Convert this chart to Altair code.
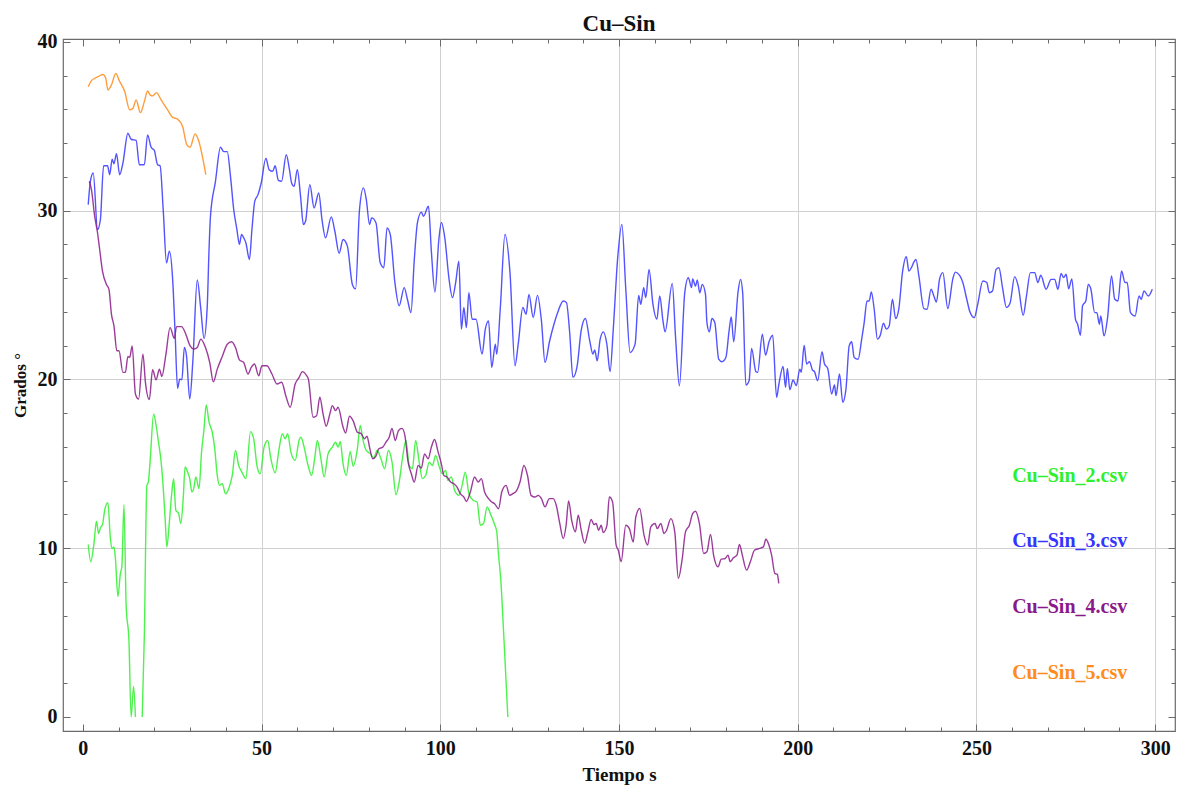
import altair as alt
import pandas as pd

# ---------------- data ----------------
series_names = ["Cu–Sin_2.csv", "Cu–Sin_3.csv", "Cu–Sin_4.csv", "Cu–Sin_5.csv"]
palette = ["#2ef02e", "#3535ff", "#8a1a8a", "#ff8c1a"]

# Cu-Sin_2 (green) – two pieces (clipped below 0 in between)
g1_t = [1.5, 2.2, 3.1, 3.8, 4.4, 4.9, 5.5, 6.1, 7.0, 7.7, 8.2, 8.7, 9.1, 9.8, 10.5, 10.9,
        11.5, 12.1, 12.9, 13.5, 14.2, 14.7]
g1_v = [10.22, 9.2, 10.28, 11.6, 10.87, 11.2, 11.4, 12.25, 12.7, 10.57, 9.98, 10.08, 9.39,
        7.13, 8.51, 8.9, 12.58, 6.63, 4.47, 0.0, 1.81, 0.0]
g2_t = [16.6, 17.2, 17.9, 18.3, 18.8, 19.8, 20.5, 21.1, 21.9, 22.5, 23.0, 23.5, 24.2, 24.9,
        25.4, 26.0, 26.8, 27.4, 28.1, 28.6, 29.3, 29.9, 30.5, 31.1, 31.6, 32.5, 33.2, 33.9,
        34.5, 35.3, 36.2, 36.9, 37.6, 38.2, 39.0, 39.9, 40.8, 41.8, 42.7, 43.6, 44.5, 45.6,
        46.9, 47.8, 48.7, 49.6, 50.7, 51.7, 52.6, 53.8, 54.9, 55.8, 56.6, 57.3, 58.2, 59.4,
        60.5, 61.0, 61.9, 62.9, 64.0, 64.9, 65.6, 66.6, 67.5, 68.6, 69.8, 70.7, 71.4, 72.0,
        72.8, 73.7, 74.8, 75.6, 76.8, 77.6, 78.3, 79.3, 80.5, 81.4, 82.3, 83.4, 84.4, 85.5,
        86.5, 87.6, 88.5, 89.4, 90.4, 91.3, 92.2, 93.1, 94.1, 95.0, 95.9, 96.9, 97.8, 98.7,
        99.6, 100.6, 101.5, 102.1, 103.1, 104.0, 105.2, 106.1, 107.0, 108.0, 109.2, 110.3,
        111.2, 112.1, 113.1, 114.0, 115.1, 115.8, 116.3, 116.9, 117.8, 118.9]
g2_v = [0.0, 4.86, 13.72, 13.9, 15.1, 17.96, 17.27, 16.38, 15.1, 13.53, 11.8, 10.08, 11.56,
        13.33, 14.12, 12.25, 12.05, 11.46, 13.04, 14.81, 14.51, 14.12, 13.33, 13.62, 14.22,
        13.53, 15.69, 17.07, 18.49, 17.47, 16.87, 15.89, 14.31, 13.72, 13.82, 13.23, 13.53,
        14.31, 15.79, 14.9, 14.51, 14.12, 16.91, 16.48, 14.9, 14.41, 15.99, 16.38, 15.3,
        14.47, 15.89, 16.78, 16.48, 16.78, 15.69, 15.2, 16.4, 16.57, 15.99, 15.0, 14.31,
        15.4, 16.38, 15.3, 14.22, 15.59, 15.99, 16.28, 15.99, 16.32, 15.0, 14.31, 15.73,
        14.87, 15.89, 17.27, 16.48, 15.79, 15.59, 15.34, 15.79, 15.3, 14.71, 15.79, 15.1,
        13.17, 13.92, 15.3, 16.38, 14.9, 14.71, 16.38, 15.1, 14.12, 14.31, 15.1, 14.9, 15.49,
        14.9, 14.41, 14.61, 14.02, 14.22, 13.43, 13.13, 13.72, 14.51, 13.23, 12.84, 12.74,
        11.36, 11.46, 12.45, 12.05, 11.46, 10.97, 9.59, 8.21, 4.67, 0.0]

# Cu-Sin_3 (blue)
b_t = [1.5, 2.1, 2.9, 4.1, 4.9, 5.8, 6.9, 7.5, 8.2, 8.7, 9.4, 10.3, 11.2, 12.6, 13.5, 14.9,
       15.8, 17.2, 18.1, 19.1, 20.0, 20.9, 21.6, 22.5, 23.4, 24.2, 25.1, 25.8, 26.5, 27.1,
       27.7, 28.4, 29.0, 29.9, 30.8, 32.0, 33.0, 33.9, 34.8, 35.3, 35.7, 37.1, 38.5, 39.4,
       40.4, 41.3, 42.2, 43.1, 43.8, 44.4, 45.0, 45.6, 46.6, 47.3, 48.1, 49.0, 49.9, 51.2,
       52.1, 53.1, 53.8, 54.7, 55.6, 56.9, 57.8, 58.4, 59.1, 60.0, 60.9, 61.7, 62.3, 63.5,
       64.7, 66.0, 66.9, 67.9, 69.5, 70.5, 71.7, 72.8, 74.0, 75.4, 76.3, 77.4, 78.5, 79.3,
       80.2, 80.8, 82.0, 83.2, 84.2, 85.1, 86.0, 87.3, 88.5, 89.9, 90.8, 91.8, 92.7, 93.6,
       94.7, 95.3, 96.7, 97.5, 98.5, 99.6, 100.3, 101.3, 102.4, 103.4, 104.3, 105.2, 105.9,
       106.6, 107.3, 108.0, 108.9, 110.0, 111.7, 112.6, 113.5, 114.4, 115.4, 115.8, 116.8,
       118.1, 119.5, 120.9, 121.8, 123.1, 124.0, 124.8, 126.0, 127.2, 128.3, 129.3, 130.6,
       131.8, 133.0, 134.4, 135.3, 136.2, 137.1, 138.3, 139.4, 140.6, 141.8, 142.7, 143.2,
       143.9, 144.7, 145.6, 146.6, 147.5, 148.4, 149.6, 150.8, 151.9, 153.1, 154.5, 155.5,
       156.1, 156.9, 157.5, 158.4, 159.5, 160.6, 161.4, 162.3, 162.9, 164.9, 165.8, 166.9,
       168.4, 169.4, 170.3, 170.6, 171.4, 171.9, 172.6, 173.3, 174.2, 174.6, 175.3, 176.0,
       176.8, 177.9, 178.8, 179.9, 180.8, 181.4, 182.1, 183.3, 184.0, 184.6, 185.5, 186.4,
       187.1, 188.3, 188.8, 190.1, 191.0, 192.0, 193.0, 194.1, 194.7, 195.9, 196.6, 197.1,
       197.8, 198.7, 199.6, 200.6, 201.0, 201.8, 202.5, 203.3, 204.1, 204.7, 205.6, 206.8,
       207.5, 208.4, 209.5, 210.3, 210.7, 211.7, 212.6, 213.5, 214.4, 215.1, 215.8, 216.9,
       217.9, 218.6, 219.4, 220.0, 220.6, 221.4, 222.3, 223.1, 224.0, 224.8, 225.6, 226.5,
       227.4, 228.3, 229.3, 230.4, 231.1, 231.8, 232.5, 233.1, 233.9, 235.3, 236.2, 237.3,
       238.1, 238.8, 239.7, 240.6, 242.0, 243.4, 244.1, 245.3, 246.2, 247.3, 248.2, 249.4,
       250.3, 251.8, 252.9, 253.6, 254.5, 255.5, 256.3, 257.3, 258.4, 259.4, 260.7, 261.7,
       263.1, 264.0, 265.1, 266.3, 267.2, 268.0, 269.5, 270.9, 271.9, 272.8, 273.7, 274.4,
       275.1, 275.8, 276.7, 277.7, 278.3, 279.1, 279.7, 280.6, 281.3, 282.0, 283.1, 283.7,
       284.4, 284.8, 285.7, 286.7, 287.8, 288.7, 289.6, 290.6, 291.6, 292.2, 293.1, 294.4,
       295.5, 296.1, 296.9, 298.1, 299.2]
b_v = [30.36, 31.74, 32.23, 28.88, 29.47, 32.66, 32.66, 32.13, 33.05, 32.78, 33.37, 32.13,
       32.82, 34.59, 34.23, 34.16, 32.72, 32.72, 34.49, 33.76, 33.56, 32.72, 32.66, 29.97,
       26.9, 27.6, 26.0, 22.78, 19.47, 20.02, 19.98, 21.9, 21.4, 18.84, 21.2, 25.89, 24.16,
       22.43, 24.36, 27.7, 29.67, 31.74, 33.76, 33.5, 33.5, 32.03, 30.07, 28.88, 28.0, 28.59,
       28.39, 28.1, 27.11, 28.88, 30.56, 30.95, 31.64, 33.11, 32.43, 32.33, 32.66, 31.79,
       31.74, 33.31, 32.43, 31.64, 31.44, 32.43, 30.85, 29.18, 29.37, 31.54, 30.16, 31.05,
       29.47, 28.39, 29.63, 28.78, 27.47, 28.29, 27.9, 25.63, 25.37, 30.07, 31.35, 30.66,
       29.18, 29.57, 29.28, 26.91, 26.62, 28.98, 28.59, 25.74, 24.36, 25.44, 24.75, 23.96,
       27.01, 29.28, 29.91, 29.67, 30.26, 27.6, 25.18, 28.29, 29.3, 28.33, 26.03, 24.85,
       25.74, 27.01, 22.98, 24.26, 23.07, 25.14, 23.57, 23.57, 21.5, 22.98, 23.47, 20.71,
       22.09, 21.5, 24.26, 28.59, 26.33, 20.81, 22.09, 24.26, 23.86, 25.04, 23.67, 24.98,
       23.47, 21.0, 22.29, 23.27, 24.06, 24.65, 24.55, 22.78, 20.12, 20.81, 22.88, 23.61,
       22.3, 21.5, 21.75, 21.1, 22.34, 22.82, 22.09, 20.46, 22.98, 27.11, 29.18, 25.34, 21.6,
       22.09, 24.98, 24.45, 25.44, 24.85, 26.52, 24.45, 23.57, 24.94, 23.47, 22.82, 25.69,
       22.58, 19.63, 25.14, 26.03, 25.44, 25.96, 25.53, 25.89, 25.14, 25.63, 25.04, 23.37,
       22.82, 23.61, 23.37, 21.2, 21.05, 21.3, 22.88, 23.7, 22.23, 25.18, 25.93, 25.14,
       19.67, 19.92, 21.84, 20.46, 20.42, 22.68, 21.44, 22.25, 22.62, 18.94, 19.67, 20.77,
       19.53, 20.65, 19.39, 19.97, 19.63, 20.61, 20.42, 22.03, 20.91, 21.05, 20.57, 20.46,
       19.92, 21.64, 20.91, 20.65, 19.14, 19.67, 19.04, 20.32, 18.65, 19.43, 21.99, 22.23,
       21.3, 21.2, 22.39, 23.37, 24.65, 24.65, 25.18, 24.16, 22.39, 22.62, 23.33, 22.98,
       23.17, 24.75, 23.61, 24.2, 26.33, 27.27, 26.42, 26.62, 26.95, 27.11, 26.13, 24.2,
       24.16, 25.34, 24.94, 24.59, 25.96, 26.33, 24.2, 25.96, 26.36, 26.17, 25.74, 24.75,
       23.99, 23.66, 24.39, 25.83, 25.74, 25.14, 25.24, 26.52, 26.62, 25.44, 24.26, 24.51,
       26.09, 25.53, 23.8, 24.94, 26.33, 26.33, 25.74, 26.17, 25.34, 25.93, 25.93, 25.34,
       26.28, 26.03, 26.23, 25.37, 25.96, 23.57, 23.27, 22.62, 24.36, 24.65, 25.63, 25.37,
       23.96, 23.96, 23.27, 23.76, 22.58, 23.66, 26.13, 24.75, 24.65, 26.42, 25.74, 25.74,
       23.96, 23.76, 24.94, 24.75, 25.24, 24.94, 25.34]

# Cu-Sin_4 (purple)
p_t = [1.8, 2.4, 3.3, 4.1, 4.7, 5.5, 6.6, 7.3, 8.0, 8.7, 9.5, 10.1, 11.2, 11.9, 12.6, 13.1,
       13.8, 14.7, 15.6, 16.8, 17.5, 18.6, 19.5, 20.5, 21.4, 22.1, 23.2, 24.4, 25.6, 26.2,
       27.6, 28.8, 30.0, 31.1, 32.0, 33.0, 34.2, 35.5, 36.5, 37.6, 39.0, 40.4, 41.6, 42.7,
       43.8, 45.0, 46.2, 47.1, 48.0, 49.2, 50.1, 51.5, 52.9, 54.3, 55.6, 56.9, 58.0, 59.4,
       60.5, 61.4, 62.6, 63.1, 64.4, 65.4, 66.3, 67.2, 68.1, 69.1, 69.8, 70.7, 71.4, 72.8,
       73.5, 74.6, 75.6, 76.8, 77.9, 78.8, 79.5, 80.2, 81.1, 82.0, 82.8, 83.9, 84.8, 85.7,
       86.5, 87.4, 88.3, 89.3, 90.1, 91.0, 91.9, 92.7, 93.8, 94.7, 95.6, 96.6, 97.5, 98.4,
       99.4, 100.3, 101.0, 101.9, 102.9, 103.8, 104.7, 105.6, 106.6, 107.3, 108.4, 109.6,
       110.6, 111.5, 112.4, 113.5, 114.4, 115.2, 116.3, 117.2, 118.4, 119.4, 120.3, 121.4,
       122.3, 123.4, 124.4, 125.4, 126.5, 127.4, 128.3, 129.3, 130.5, 131.6, 132.5, 133.4,
       134.4, 135.2, 135.9, 136.8, 137.8, 138.6, 139.4, 140.4, 141.3, 142.2, 143.0, 143.6,
       144.3, 145.0, 145.6, 146.6, 147.3, 148.2, 149.2, 149.8, 150.6, 151.9, 152.9, 154.0,
       154.7, 155.8, 157.0, 158.0, 158.9, 160.1, 160.7, 161.7, 162.6, 163.3, 164.5, 165.6,
       166.6, 167.7, 168.6, 169.7, 170.6, 171.4, 172.5, 173.7, 174.6, 175.6, 176.5, 177.7,
       178.6, 179.7, 180.5, 181.1, 182.0, 183.0, 183.7, 184.5, 185.7, 186.8, 187.9, 189.2,
       190.4, 191.1, 191.9, 192.7, 193.6, 194.3, 194.7]
p_v = [31.74, 31.25, 29.67, 28.69, 27.7, 26.4, 25.63, 25.34, 23.86, 23.17, 21.7, 21.7, 20.42,
       20.42, 21.36, 21.3, 21.99, 19.14, 18.84, 21.5, 19.83, 18.81, 20.57, 19.98, 20.61,
       20.18, 21.44, 23.07, 22.43, 23.13, 23.13, 22.68, 21.99, 21.8, 21.89, 22.39, 21.95,
       21.0, 19.86, 20.61, 21.36, 22.09, 22.23, 21.89, 21.16, 21.0, 20.32, 20.71, 20.91,
       20.22, 20.81, 20.81, 20.32, 19.73, 19.83, 18.94, 18.35, 19.73, 20.12, 20.46, 20.22,
       20.02, 17.76, 17.85, 18.94, 17.96, 17.23, 17.96, 18.45, 18.15, 18.35, 17.17, 16.83,
       17.82, 17.56, 16.87, 16.78, 16.48, 16.64, 15.99, 15.3, 15.46, 15.89, 15.99, 16.28,
       16.57, 17.1, 16.38, 16.97, 17.1, 16.67, 15.1, 14.41, 13.92, 14.9, 14.75, 15.59, 15.3,
       15.99, 16.44, 15.69, 15.0, 14.31, 14.22, 13.92, 13.82, 13.62, 13.23, 13.03, 12.77,
       13.33, 14.22, 13.92, 14.12, 13.33, 12.94, 12.74, 12.64, 12.34, 13.33, 13.72, 13.13,
       13.23, 13.43, 13.92, 14.9, 14.31, 13.13, 13.03, 13.13, 12.94, 12.45, 12.94, 12.94,
       12.5, 11.5, 10.57, 11.36, 12.8, 11.6, 10.97, 11.95, 11.1, 10.3, 10.97, 11.71, 11.4,
       11.46, 11.06, 11.36, 10.93, 11.32, 13.03, 12.74, 10.18, 9.88, 9.2, 11.36, 11.16,
       10.37, 11.85, 12.35, 10.77, 10.18, 11.26, 11.46, 11.16, 11.46, 10.87, 11.06, 11.75,
       10.97, 8.21, 9.39, 10.97, 11.36, 12.05, 12.19, 11.46, 9.69, 9.79, 10.81, 9.55, 8.9,
       9.35, 9.39, 9.59, 9.2, 9.43, 9.59, 10.22, 9.59, 8.7, 9.23, 9.88, 9.98, 10.08, 10.53,
       10.22, 9.59, 8.51, 8.45, 7.92]

# Cu-Sin_5 (orange)
o_t = [1.5, 2.4, 3.3, 4.3, 5.6, 6.4, 7.0, 8.0, 9.2, 10.3, 11.7, 13.1, 14.0, 14.9, 16.1, 17.2,
       18.1, 18.8, 19.5, 20.6, 21.9, 23.7, 25.1, 26.5, 27.9, 29.1, 30.0, 31.4, 32.3, 34.4]
o_v = [37.35, 37.7, 37.84, 37.94, 38.07, 37.84, 37.15, 37.45, 38.13, 37.65, 37.06, 35.97,
       36.06, 36.56, 35.81, 36.46, 37.09, 36.86, 36.8, 36.99, 36.56, 35.97, 35.53, 35.42,
       34.98, 33.9, 33.76, 34.55, 34.2, 32.13]

# label positions of the in-plot legend (data coordinates)
label_t = [260.0, 260.0, 260.0, 260.0]
label_v = [14.3, 10.4, 6.5, 2.6]

x_major = [0, 50, 100, 150, 200, 250, 300]
x_minor = list(range(0, 301, 10))
x_grid = [50, 100, 150, 200, 250, 300]
y_major = [0, 10, 20, 30, 40]
y_minor = list(range(0, 41, 2))
y_grid = [10, 20, 30]

# ---------------- build tables ----------------
rows = []
def add(name, part, ts, vs):
    for i, (t, v) in enumerate(zip(ts, vs)):
        rows.append({"t": t, "v": v, "series": name, "part": f"{name}-{part}", "i": i})

add(series_names[0], "a", g1_t, g1_v)
add(series_names[0], "b", g2_t, g2_v)
add(series_names[1], "a", b_t, b_v)
add(series_names[2], "a", p_t, p_v)
add(series_names[3], "a", o_t, o_v)
df = pd.DataFrame(rows)

labels_df = pd.DataFrame({"t": label_t, "v": label_v, "series": series_names})
frame_df = pd.DataFrame({"t": [0, 300], "v": [0, 40]})

FONT = "Liberation Serif"
TICK = "#6b6b6b"
xs = alt.Scale(domain=[-5.56, 305.56], nice=False, zero=False)
ys = alt.Scale(domain=[-0.83, 40.17], nice=False, zero=False)
cs = alt.Scale(domain=series_names, range=palette)


def axis(values, orient, size, labels=False, grid=False, ticks=True, **kw):
    # inward ticks: positive tick size, axis shifted inward by the same amount
    opts = dict(values=values, orient=orient, domain=False, labels=labels, grid=grid,
                ticks=ticks, tickColor=TICK, tickWidth=1)
    if ticks:
        opts["tickSize"] = size
        opts["offset"] = -size
    opts.update(kw)
    return alt.Axis(**opts)


# grid layer
grid_layer = alt.Chart(frame_df).mark_point(opacity=0, size=1).encode(
    x=alt.X("t:Q", scale=xs, title=None,
            axis=axis(x_grid, "bottom", 0, ticks=False, grid=True, gridColor="#d0d0d0",
                      gridWidth=1)),
    y=alt.Y("v:Q", scale=ys, title=None,
            axis=axis(y_grid, "left", 0, ticks=False, grid=True, gridColor="#d0d0d0",
                      gridWidth=1)),
)

# data lines + major labelled axes
lines = alt.Chart(df).mark_line(strokeWidth=1.4, opacity=0.85, interpolate="monotone").encode(
    x=alt.X("t:Q", scale=xs, title="Tiempo s",
            axis=axis(x_major, "bottom", 7, labels=True, labelFont=FONT, labelFontSize=20,
                      labelFontWeight="bold", labelColor="#111", labelPadding=7,
                      titleFont=FONT, titleFontSize=19, titleFontWeight="bold",
                      titleColor="#111", titleY=56, titleBaseline="alphabetic")),
    y=alt.Y("v:Q", scale=ys, title="Grados °",
            axis=axis(y_major, "left", 7, labels=True, labelFont=FONT, labelFontSize=20,
                      labelFontWeight="bold", labelColor="#111", labelPadding=6,
                      titleFont=FONT, titleFontSize=17, titleFontWeight="bold",
                      titleColor="#111", titleX=-50, titleBaseline="middle")),
    color=alt.Color("series:N", scale=cs, legend=None),
    detail="part:N",
    order="i:Q",
)

# legend-like labels + minor bottom/left ticks
texts = alt.Chart(labels_df).mark_text(align="left", baseline="middle", font=FONT,
                                       fontSize=20, fontWeight="bold").encode(
    x=alt.X("t:Q", scale=xs, title=None, axis=axis(x_minor, "bottom", 4)),
    y=alt.Y("v:Q", scale=ys, title=None, axis=axis(y_minor, "left", 4)),
    text="series:N",
    color=alt.Color("series:N", scale=cs, legend=None),
)

# top / right frame ticks
top_major = alt.Chart(frame_df).mark_point(opacity=0, size=1).encode(
    x=alt.X("t:Q", scale=xs, title=None, axis=axis(x_major, "top", 7)),
    y=alt.Y("v:Q", scale=ys, title=None, axis=axis(y_major, "right", 7)),
)
top_minor = alt.Chart(frame_df).mark_point(opacity=0, size=1).encode(
    x=alt.X("t:Q", scale=xs, title=None, axis=axis(x_minor, "top", 4)),
    y=alt.Y("v:Q", scale=ys, title=None, axis=axis(y_minor, "right", 4)),
)

chart = alt.layer(grid_layer, lines, texts, top_major, top_minor).resolve_axis(
    x="independent", y="independent"
).properties(
    width=1112,
    height=692,
    autosize=alt.AutoSizeParams(type="none"),
    padding={"left": 55, "top": 31, "right": 1, "bottom": 54},
    title=alt.TitleParams("Cu–Sin", font=FONT, fontSize=23, fontWeight="bold",
                          color="#111", offset=10, dy=14, anchor="middle"),
).configure_view(stroke="#6b6b6b", strokeWidth=1.2)

chart.save("out.html", embed_options={"renderer": "svg", "actions": False})
